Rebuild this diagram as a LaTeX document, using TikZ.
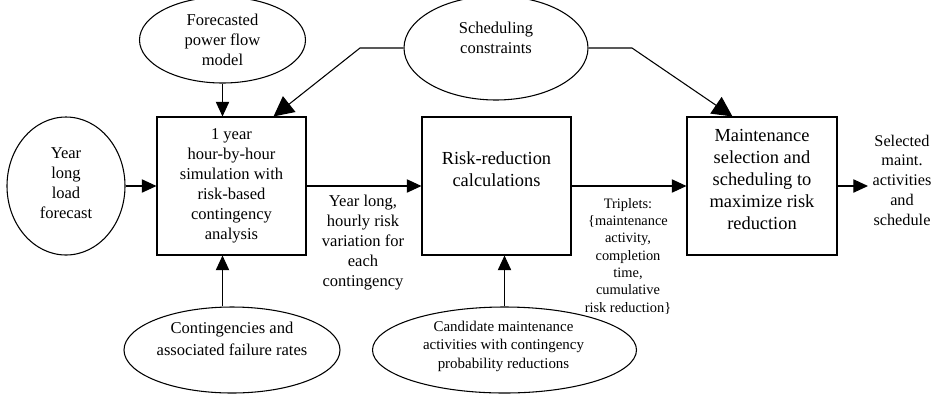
\documentclass[tikz,border=0pt]{standalone}
\usepackage{fontspec}
\setmainfont{Liberation Serif}
\usetikzlibrary{shapes.geometric,arrows.meta,calc}
\begin{document}
\begin{tikzpicture}[x=0.75pt,y=-0.75pt,
  line width=0.8pt,
  oval/.style={draw,ellipse,inner sep=0pt},
  boxnode/.style={draw,rectangle,inner sep=0pt,minimum width=111.75pt,minimum height=103.5pt},
  txt/.style={align=center,inner sep=0pt,font=\fontsize{12.4}{15}\selectfont},
  bigtxt/.style={align=center,inner sep=0pt,font=\fontsize{13.8}{16.5}\selectfont},
  smalltxt/.style={align=center,inner sep=0pt,font=\fontsize{10.8}{13}\selectfont},
  candtxt/.style={align=center,inner sep=0pt,font=\fontsize{11.2}{13.9}\selectfont},
  arr/.style={-{Triangle[length=11pt,width=10pt]}},
  bigarr/.style={-{Triangle[length=15pt,width=15pt]}}]
\useasboundingbox (0,0) rectangle (931,394);

% ellipses
\node[oval,minimum width=124.5pt,minimum height=64.5pt] (fore) at (222.5,40) {};
\node[txt] (foret) at (222.5,40) {Forecasted\\power flow\\model};

\node[oval,minimum width=138pt,minimum height=78pt] (sched) at (496,48) {};
\node[txt] (schedt) at (496,38) {Scheduling\\constraints};

\node[oval,minimum width=88.5pt,minimum height=103.5pt] (year) at (66,186) {};
\node[txt] (yeart) at (66,183) {Year\\long\\load\\forecast};

\node[oval,minimum width=162pt,minimum height=64.5pt] (cont) at (232,350) {};
\node[txt,font=\fontsize{12.4}{16.5}\selectfont] (contt) at (232,339) {Contingencies and\\associated failure rates};

\node[oval,minimum width=198pt,minimum height=64.5pt] (cand) at (504.5,350) {};
\node[candtxt] (candt) at (503.5,346) {Candidate maintenance\\activities with contingency\\probability reductions};

% boxes
\node[boxnode,txt] (b1) at (231.5,186) {1 year\\hour-by-hour\\simulation with\\risk-based\\contingency\\analysis};
\node[boxnode] (b2) at (496.5,186) {};
\node[bigtxt] (b2t) at (496.5,169) {Risk-reduction\\calculations};
\node[boxnode,minimum width=112.5pt] (b3) at (762,186) {};
\node[bigtxt] (b3t) at (762,179) {Maintenance\\selection and\\scheduling to\\maximize risk\\reduction};

% labels
\node[txt] (lab1) at (363,243) {Year long,\\hourly risk\\variation for\\each\\contingency};
\node[smalltxt] (lab2) at (628,256) {Triplets:\\\{maintenance\\activity,\\completion\\time,\\cumulative\\risk reduction\}};
\node[txt,font=\fontsize{12.2}{14.8}\selectfont] (lab3) at (902,180) {Selected\\maint.\\activities\\and\\schedule};
\coordinate (out) at (868,186);

% connectors
\draw[arr] (fore.south) -- (fore.south |- b1.north);
\draw[arr] (year.east) -- (b1.west);
\draw[arr] (b1.east) -- (b2.west);
\draw[arr] (b2.east) -- (b3.west);
\draw[arr] (b3.east) -- (out);
\draw[arr] (cont.north -| fore.south) -- (b1.south -| fore.south);
\draw[arr] (cand.north) -- (cand.north |- b2.south);
\draw[bigarr] (sched.west) -- (360,48) -- ($(b1.north east)+(-33,0)$);
\draw[bigarr] (sched.east) -- (632,48) -- ($(b3.north west)+(46,0)$);
\end{tikzpicture}
\end{document}
